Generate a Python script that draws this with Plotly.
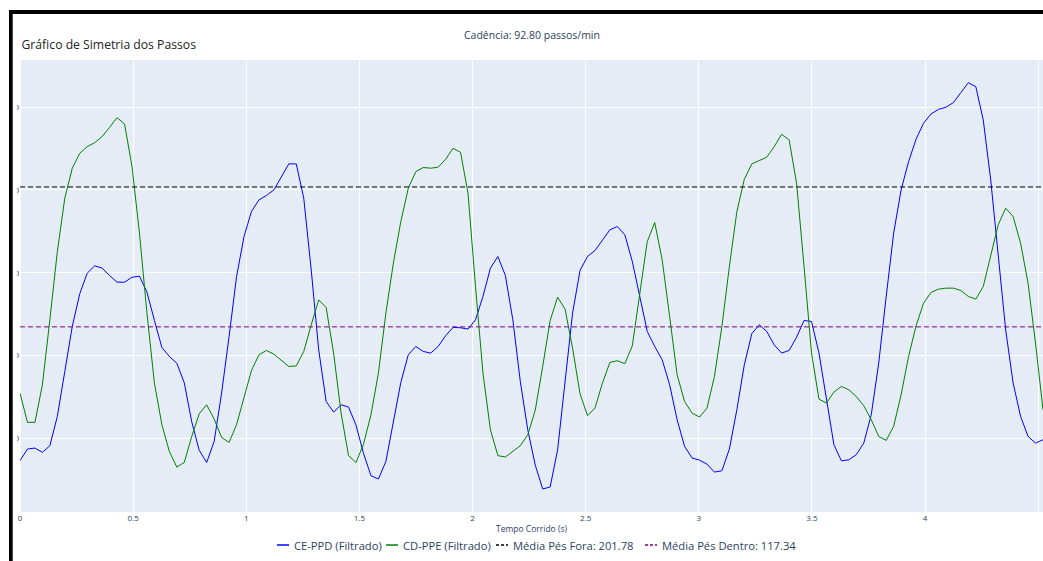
import plotly.graph_objects as go

# Frame interval of the capture (seconds)
FRAME_DT = 0.033

# Filtered step signals
ce_ppd = [
    36.6, 43.6, 44.2, 41.6, 45.6, 63.3, 90.4, 117.6, 137.3, 149.7,
    154.2, 152.8, 148.3, 144.3, 144.3, 147.3, 147.9, 138.3, 121.2, 104.9,
    99.5, 95.4, 83.6, 60.0, 42.8, 35.5, 48.2, 77.4, 111.5, 147.7,
    171.8, 187.0, 194.0, 196.6, 200.0, 207.6, 215.7, 215.7, 195.0, 151.7,
    103.5, 72.3, 65.9, 70.3, 68.9, 58.0, 41.0, 27.5, 25.5, 36.1,
    59.3, 83.8, 100.5, 105.5, 102.5, 101.5, 105.5, 112.0, 117.0, 116.8,
    116.0, 121.6, 135.7, 152.8, 159.8, 148.3, 121.6, 84.4, 55.2, 34.0,
    19.5, 20.7, 43.2, 83.4, 125.6, 151.4, 159.8, 163.4, 169.8, 175.9,
    177.9, 172.9, 156.8, 135.7, 114.6, 105.5, 97.5, 82.4, 61.3, 45.2,
    38.2, 36.9, 34.5, 29.7, 30.5, 43.6, 67.3, 94.4, 113.2, 118.6,
    114.6, 106.5, 101.5, 103.1, 111.1, 121.2, 120.6, 101.5, 73.3, 46.2,
    36.5, 37.1, 40.2, 47.2, 64.3, 95.5, 135.7, 173.9, 200.0, 217.1,
    230.6, 240.2, 245.8, 248.6, 249.9, 252.7, 258.7, 264.7, 262.3, 242.2,
    206.0, 159.8, 115.6, 83.4, 63.3, 51.2, 47.2, 49.2,
]
cd_ppe = [
    77.4, 59.7, 59.7, 82.4, 121.6, 162.8, 195.0, 213.1, 222.1, 226.1,
    228.5, 232.2, 237.8, 243.6, 239.8, 214.1, 173.9, 125.6, 83.4, 58.3,
    42.2, 32.7, 35.5, 51.2, 64.9, 70.3, 61.7, 50.6, 47.6, 58.3,
    74.7, 91.0, 100.5, 103.1, 100.9, 97.1, 93.4, 93.8, 102.5, 118.6,
    133.6, 129.0, 101.5, 65.3, 39.6, 35.5, 46.5, 64.3, 89.4, 125.6,
    155.8, 180.9, 201.0, 211.0, 213.5, 213.1, 213.7, 218.5, 225.1, 222.7,
    198.0, 141.7, 89.4, 55.2, 39.6, 38.8, 42.2, 45.6, 52.2, 67.0,
    93.4, 121.2, 135.3, 128.0, 104.5, 77.0, 63.7, 68.3, 83.4, 95.9,
    96.9, 95.1, 105.9, 137.7, 168.8, 180.3, 157.8, 123.6, 88.4, 72.3,
    65.3, 62.9, 68.3, 87.4, 117.6, 153.8, 186.9, 206.4, 215.7, 217.7,
    219.7, 226.1, 233.6, 230.2, 204.0, 153.8, 101.5, 73.7, 71.3, 78.0,
    81.4, 79.4, 75.3, 69.7, 61.3, 51.2, 48.8, 57.3, 76.4, 99.5,
    118.0, 131.6, 138.1, 140.1, 140.7, 140.7, 139.3, 135.7, 134.1, 141.7,
    159.8, 178.9, 189.0, 183.9, 167.8, 143.7, 107.5, 67.3,
]
tempo = [round(i * FRAME_DT, 3) for i in range(len(ce_ppd))]

media_fora = 201.78
media_dentro = 117.34
cadencia = 92.80

W, H = 1043, 561
ML, MR, MT, MB = 20, 0, 60, 49
plot_h = H - MT - MB
plot_w = W - ML - MR


def px_x(x):
    """Figure pixel column -> paper x."""
    return (x - ML) / plot_w


def px_y(y):
    """Figure pixel row -> paper y."""
    return (H - MB - y) / plot_h


MEAN_DASH = "5px,3px"

series = [
    dict(x=tempo, y=ce_ppd, name="CE-PPD (Filtrado)", color="blue", dash="solid"),
    dict(x=tempo, y=cd_ppe, name="CD-PPE (Filtrado)", color="green", dash="solid"),
    dict(x=[tempo[0], tempo[-1]], y=[media_fora, media_fora],
         name=f"Média Pés Fora: {media_fora:.2f}", color="black", dash=MEAN_DASH),
    dict(x=[tempo[0], tempo[-1]], y=[media_dentro, media_dentro],
         name=f"Média Pés Dentro: {media_dentro:.2f}", color="purple", dash=MEAN_DASH),
]

fig = go.Figure()
for s in series:
    fig.add_trace(go.Scatter(x=s["x"], y=s["y"], mode="lines", name=s["name"],
                             showlegend=False,
                             line=dict(color=s["color"], width=1, dash=s["dash"])))

# Compact horizontal key under the x axis: short swatch followed by its label
key_left = [277, 386, 496, 645]
key_row = 545
shapes = []
annotations = []
for s, x0 in zip(series, key_left):
    shapes.append(dict(type="line", xref="paper", yref="paper", layer="above",
                       x0=px_x(x0), x1=px_x(x0 + 12), y0=px_y(key_row), y1=px_y(key_row),
                       line=dict(color=s["color"], width=1.5,
                                 dash="3px,2px" if s["dash"] != "solid" else "solid")))
    annotations.append(dict(text=s["name"], xref="paper", yref="paper",
                            x=px_x(x0 + 15), y=px_y(key_row), xanchor="left",
                            yanchor="middle", showarrow=False,
                            font=dict(size=11.2, color="#2a3f5f")))

annotations.append(dict(text=f"Cadência: {cadencia:.2f} passos/min", xref="paper",
                        yref="paper", x=px_x(532), y=px_y(35), xanchor="center",
                        yanchor="middle", showarrow=False,
                        font=dict(size=10.5, color="#2a3f5f")))

# white mat and black frame around the figure edge
shapes += [
    dict(type="rect", xref="paper", yref="paper", layer="above",
         x0=px_x(0), x1=px_x(17), y0=px_y(H), y1=px_y(0),
         fillcolor="white", line=dict(width=0)),
    dict(type="rect", xref="paper", yref="paper", layer="above",
         x0=px_x(9), x1=px_x(12.7), y0=px_y(H), y1=px_y(10),
         fillcolor="black", line=dict(width=0)),
    dict(type="rect", xref="paper", yref="paper", layer="above",
         x0=px_x(9), x1=px_x(W), y0=px_y(14), y1=px_y(10),
         fillcolor="black", line=dict(width=0)),
]

fig.update_layout(
    width=W, height=H,
    margin=dict(l=ML, r=MR, t=MT, b=MB, pad=0),
    template="plotly",
    font=dict(family="Open Sans, sans-serif", color="#2a3f5f"),
    title=dict(text="Gráfico de Simetria dos Passos", xref="container", x=21.5 / W,
               xanchor="left", y=1 - 45 / H, yanchor="middle",
               font=dict(size=12.2, color="#222222")),
    xaxis=dict(range=[0, tempo[-1]], dtick=0.5, tickfont=dict(size=8),
               title=dict(text="Tempo Corrido (s)", font=dict(size=8.5), standoff=4)),
    yaxis=dict(range=[5.6, 278.4], dtick=50, tickfont=dict(size=8)),
    showlegend=False,
    annotations=annotations,
    shapes=shapes,
)

fig.write_html("out.html")
